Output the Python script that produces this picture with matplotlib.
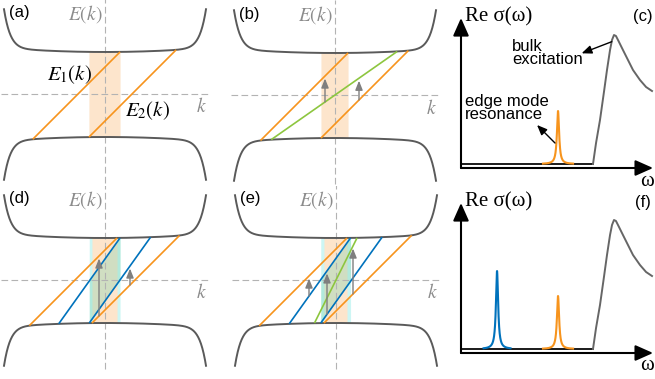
import numpy as np
import matplotlib.pyplot as plt

plt.rcParams['mathtext.fontset'] = 'stix'

W, H = 655, 379

ORANGE = '#f7941d'
BLUE = '#0072bc'
GREEN = '#8dc63f'
BAND = '#5a5a5a'
DASH = '#b3b3b3'
ARROW = '#7f7f7f'
GREY_TXT = '#8c8c8c'
PEACH = '#fde5cc'
CYAN = '#cdf6f4'
TEAL = '#7dd3b0'

# bulk bands (energies and momenta in the same units)
gap_c = 0.42
gap_v = 0.43
curv2 = 0.04
curv16 = 0.33
k_end = 1.01

# edge-state branches for each panel: (k at E=0, slope)
a_orange = [(-0.27, 1.0), (0.27, 1.0)]
b_orange = [(-0.29, 1.0), (0.29, 1.0)]
b_green = [(0.0, 0.70)]
d_orange = [(-0.30, 1.0), (0.30, 1.0)]
d_blue = [(-0.15, 1.4), (0.15, 1.4)]
e_orange = [(-0.31, 1.0), (0.31, 1.0)]
e_blue = [(-0.155, 1.4), (0.155, 1.4)]
e_green = [(0.0, 2.0)]

# optical transitions: (k, lower branch, upper branch)
b_arrows = [(-0.10, b_green[0], b_orange[0]), (0.24, b_orange[1], b_green[0])]
d_arrows = [(-0.06, d_orange[1], d_orange[0]), (0.25, d_orange[1], d_blue[1])]
e_arrows = [(-0.27, e_blue[0], e_orange[0]), (-0.09, e_blue[1], e_blue[0]),
            (0.17, e_orange[1], e_green[0])]

# conductivity spectra
peak_gamma = 0.010
c_peaks = [(0.735, 0.53, 0.114, ORANGE)]
f_peaks = [(0.273, 0.78, 0.102, BLUE), (0.735, 0.53, 0.114, ORANGE)]
gap_omega = 1.0
bulk_omega = [1.000, 1.023, 1.053, 1.083, 1.106, 1.129, 1.144, 1.159, 1.174,
              1.197, 1.227, 1.265, 1.303, 1.356, 1.402, 1.447]
bulk_sigma = [0.00, 0.21, 0.44, 0.72, 0.94, 1.14, 1.24, 1.29, 1.28,
              1.22, 1.14, 1.04, 0.94, 0.84, 0.77, 0.73]

fig = plt.figure(figsize=(W / 100, H / 100), dpi=100)


def ax_at(left, right, top, bottom, ox, oy, sx, sy):
    ax = fig.add_axes([left / W, 1 - bottom / H, (right - left) / W, (bottom - top) / H])
    ax.set_xlim((left - ox) / sx, (right - ox) / sx)
    ax.set_ylim((oy - bottom) / sy, (oy - top) / sy)
    ax.axis('off')
    return ax


def e_cond(k):
    return gap_c + curv2 * k**2 + curv16 * k**16


def e_val(k):
    return -(gap_v + curv2 * k**2 + curv16 * k**16)


def branch(k0, s):
    # keep only the piece that runs across the gap through E=0
    k = np.linspace(-1, 1, 4001)
    e = s * (k - k0)
    inside = (e <= e_cond(k)) & (e >= e_val(k))
    i0 = np.argmin(np.abs(k - k0))
    lo, hi = i0, i0
    while lo > 0 and inside[lo - 1]:
        lo -= 1
    while hi < len(k) - 1 and inside[hi + 1]:
        hi += 1
    return k[lo:hi + 1], e[lo:hi + 1]


def shade(ax, pair, color):
    k_lo = branch(*pair[1])[0].min()
    k_hi = branch(*pair[0])[0].max()
    kk = np.linspace(k_lo, k_hi, 200)
    ax.fill_between(kk, e_val(kk), e_cond(kk), color=color, lw=0, zorder=1)


def band_panel(ax, label, lines, arrows=(), shades=()):
    for pair, color in shades:
        shade(ax, pair, color)
    # green overlap between the two blue branches
    for pair, color in shades:
        if color == CYAN:
            kk = np.linspace(branch(*pair[1])[0].min(), branch(*pair[0])[0].max(), 200)
            (k0l, sl), (k0r, sr) = pair
            top = np.minimum(sl * (kk - k0l), e_cond(kk))
            bot = np.maximum(sr * (kk - k0r), e_val(kk))
            ax.fill_between(kk, bot, top, color=TEAL, alpha=0.35, lw=0, zorder=1.5)
    ax.plot([-1.04, 1.03], [0, 0], color=DASH, lw=0.8, dashes=(6, 3), zorder=2)
    ax.plot([0, 0], [-0.89, 0.95], color=DASH, lw=0.8, dashes=(6, 3), zorder=2)
    kb = np.linspace(-k_end, k_end, 600)
    ax.plot(kb, e_cond(kb), color=BAND, lw=1.4, zorder=3)
    ax.plot(kb, e_val(kb), color=BAND, lw=1.4, zorder=3)
    for group, color in lines:
        for k0, s in group:
            k, e = branch(k0, s)
            ax.plot(k, e, color=color, lw=1.2, zorder=4, solid_capstyle='butt')
    for k, lo, hi in arrows:
        e_lo = lo[1] * (k - lo[0])
        e_hi = hi[1] * (k - hi[0])
        ax.annotate('', xy=(k, e_hi - 0.025), xytext=(k, e_lo),
                    arrowprops=dict(arrowstyle='-|>,head_length=0.55,head_width=0.22',
                                    color=ARROW, lw=1.0, mutation_scale=10,
                                    shrinkA=0, shrinkB=0), zorder=5)
    ax.text(-0.20, 0.80, r'$E(k)$', color=GREY_TXT, fontsize=14, ha='center', va='center')
    ax.text(0.96, -0.13, r'$k$', color=GREY_TXT, fontsize=14, ha='center', va='center')
    ax.text(-0.86, 0.81, label, fontsize=12, family='Liberation Sans',
            ha='center', va='center')


def sigma_panel(ax, label, peaks):
    head = dict(arrowstyle='-|>,head_length=0.9,head_width=0.4', color='k',
                lw=1.5, mutation_scale=12, shrinkA=0, shrinkB=0)
    ax.annotate('', xy=(0, 1.46), xytext=(0, -0.04), arrowprops=head)
    ax.annotate('', xy=(1.455, -0.04), xytext=(0, -0.04), arrowprops=head)
    ax.plot([0.01, gap_omega], [0, 0], color='#1a1a1a', lw=1.4)
    for w0, amp, half, color in peaks:
        w = np.linspace(w0 - half, w0 + half, 600)
        s = amp * peak_gamma**2 / ((w - w0)**2 + peak_gamma**2)
        ax.plot(w, s, color=color, lw=1.5)
    ax.plot(bulk_omega, bulk_sigma, color='#666666', lw=1.4)
    ax.text(0.03, 1.47, 'Re σ(ω)', fontsize=15, family=['Liberation Serif', 'DejaVu Serif'],
            ha='left', va='center')
    ax.text(1.41, -0.17, 'ω', fontsize=15, family=['Liberation Serif', 'DejaVu Serif'],
            ha='center', va='center')
    ax.text(1.38, 1.47, label, fontsize=12, family='Liberation Sans',
            ha='center', va='center')


ax_a = ax_at(0, 218, 0, 188, 105, 94, 100, 100)
band_panel(ax_a, '(a)', [(a_orange, ORANGE)], shades=[(a_orange, PEACH)])
ax_a.text(-0.35, 0.19, r'$E_1(k)$', fontsize=15, ha='center', va='center')
ax_a.text(0.43, -0.17, r'$E_2(k)$', fontsize=15, ha='center', va='center')

ax_b = ax_at(226, 448, 0, 188, 335, 95, 100, 100)
band_panel(ax_b, '(b)', [(b_orange, ORANGE), (b_green, GREEN)], b_arrows,
           shades=[(b_orange, PEACH)])

ax_d = ax_at(0, 218, 186, 379, 105, 280, 100, 100)
band_panel(ax_d, '(d)', [(d_orange, ORANGE), (d_blue, BLUE)], d_arrows,
           shades=[(d_blue, CYAN), (d_orange, PEACH)])

ax_e = ax_at(226, 448, 186, 379, 336, 280, 100, 100)
band_panel(ax_e, '(e)', [(e_orange, ORANGE), (e_blue, BLUE), (e_green, GREEN)], e_arrows,
           shades=[(e_blue, CYAN), (e_orange, PEACH)])

ax_c = ax_at(452, 655, 0, 185, 461, 164, 132, 100)
sigma_panel(ax_c, '(c)', c_peaks)
small = dict(arrowstyle='-|>,head_length=0.6,head_width=0.25', color='k',
             lw=1.0, mutation_scale=10, shrinkA=0, shrinkB=0)
ax_c.annotate('', xy=(0.914, 1.107), xytext=(1.142, 1.223), arrowprops=small)
ax_c.annotate('', xy=(0.576, 0.39), xytext=(0.712, 0.21), arrowprops=small)
ax_c.text(0.386, 1.25, 'bulk\nexcitation', fontsize=12, family='Liberation Sans',
          ha='left', va='top', linespacing=0.85)
ax_c.text(0.03, 0.70, 'edge mode\nresonance', fontsize=12, family='Liberation Sans',
          ha='left', va='top', linespacing=0.85)

ax_f = ax_at(452, 655, 185, 370, 461, 349, 132, 100)
sigma_panel(ax_f, '(f)', f_peaks)

fig.savefig('out.png', dpi=100)
